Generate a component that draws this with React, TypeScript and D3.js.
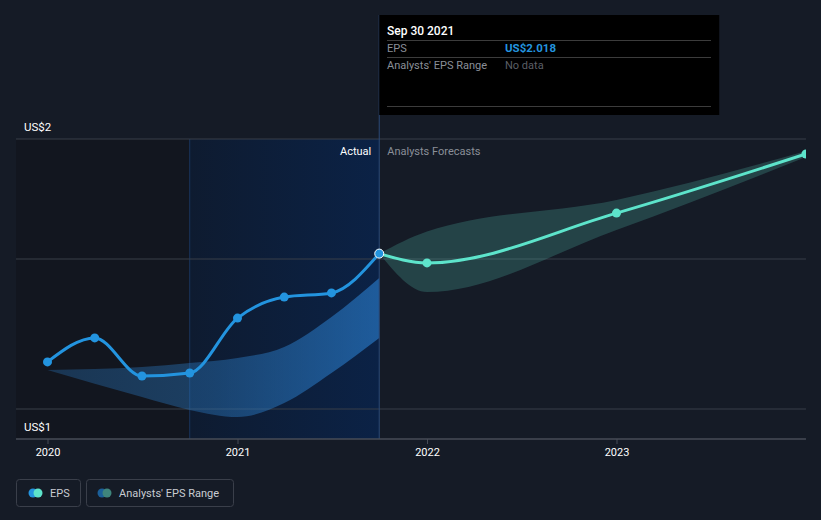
import React from "react";
import * as d3 from "d3";

const W = 821;
const H = 520;

const actualDates = ["2019-12-31", "2020-03-31", "2020-06-30", "2020-09-30", "2020-12-31", "2021-03-31", "2021-06-30", "2021-09-30"];
const actualEps = [1.657, 1.737, 1.61, 1.62, 1.803, 1.873, 1.887, 2.018];

const pastBandDates = ["2019-12-31", "2020-06-30", "2020-09-30", "2020-12-31", "2021-03-31", "2021-06-30", "2021-09-30"];
const pastBandLow = [1.63, 1.54, 1.497, 1.473, 1.52, 1.62, 1.737];
const pastBandHigh = [1.63, 1.64, 1.653, 1.67, 1.707, 1.807, 1.937];

const forecastDates = ["2021-09-30", "2021-12-31", "2022-12-31", "2023-12-31"];
const forecastEps = [2.018, 1.987, 2.153, 2.35];
const forecastLow = [2.018, 1.89, 2.097, 2.34];
const forecastHigh = [2.018, 2.092, 2.197, 2.36];

const yearTicks = ["2020-01-01", "2021-01-01", "2022-01-01", "2023-01-01"];
const yearLabels = ["2020", "2021", "2022", "2023"];
const gridValues = [2.4, 2.0, 1.5];
const yLabels = ["US$2", "US$1"];
const yLabelValues = [2.4, 1.4];

const pd = (s: string) => d3.timeParse("%Y-%m-%d")(s) as Date;

export default function App() {
  const x = d3
    .scaleTime()
    .domain([pd("2020-01-01"), pd("2023-01-01")])
    .range([48, 617]);
  const y = d3.scaleLinear().domain([1.4, 2.4]).range([439, 139]);

  const xEnd = x(pd("2023-12-31"));
  const xNow = x(pd("2021-09-30"));
  const xYearAgo = x(pd("2020-09-30"));

  const line = d3
    .line<[Date, number]>()
    .x((d) => x(d[0]))
    .y((d) => y(d[1]))
    .curve(d3.curveMonotoneX);
  const area = d3
    .area<[Date, number, number]>()
    .x((d) => x(d[0]))
    .y0((d) => y(d[1]))
    .y1((d) => y(d[2]))
    .curve(d3.curveMonotoneX);

  const actual: [Date, number][] = actualDates.map((d, i) => [pd(d), actualEps[i]]);
  const forecast: [Date, number][] = forecastDates.map((d, i) => [pd(d), forecastEps[i]]);
  const pastBand: [Date, number, number][] = pastBandDates.map((d, i) => [pd(d), pastBandLow[i], pastBandHigh[i]]);
  const fBand: [Date, number, number][] = forecastDates.map((d, i) => [pd(d), forecastLow[i], forecastHigh[i]]);

  const font = "Roboto, 'Noto Sans', sans-serif";
  const top = y(2.4);
  const bottom = y(1.4);

  return (
    <svg width={W} height={H} style={{ display: "block", position: "absolute", left: 0, top: 0 }} fontFamily={font}>
      <defs>
        <linearGradient id="hl" x1="0" x2="1" y1="0" y2="0">
          <stop offset="0" stopColor="#0e1b30" />
          <stop offset="1" stopColor="#0b2246" />
        </linearGradient>
        <linearGradient id="pb" x1="0" x2="1" y1="0" y2="0">
          <stop offset="0" stopColor="#2a78c0" stopOpacity={0.32} />
          <stop offset="0.5" stopColor="#2a78c0" stopOpacity={0.42} />
          <stop offset="1" stopColor="#2a7fd0" stopOpacity={0.62} />
        </linearGradient>
        <clipPath id="clip">
          <rect x={0} y={0} width={xEnd} height={H} />
        </clipPath>
      </defs>
      <rect x={0} y={0} width={W} height={H} fill="#151b26" />
      <rect x={16} y={top} width={xYearAgo - 16} height={bottom - top} fill="#12161f" />
      <rect x={xYearAgo} y={top} width={xNow - xYearAgo} height={bottom - top} fill="url(#hl)" />
      <line x1={xYearAgo} x2={xYearAgo} y1={top} y2={bottom} stroke="#1a345c" strokeWidth={1} />

      {gridValues.map((v, i) => (
        <line key={i} x1={16} x2={xEnd} y1={y(v)} y2={y(v)} stroke="#393e49" strokeWidth={1} />
      ))}

      {yLabels.map((t, i) => (
        <text key={t} x={24} y={y(yLabelValues[i]) - 8} fill="#ffffff" fontSize={11.5}>
          {t}
        </text>
      ))}

      <path d={area(pastBand) || ""} fill="url(#pb)" />
      <g clipPath="url(#clip)">
        <path d={area(fBand) || ""} fill="#5ad1bd" fillOpacity={0.22} />
      </g>

      <line x1={xNow} x2={xNow} y1={15} y2={bottom} stroke="#2c4a78" strokeWidth={1} />

      <text x={xNow - 8} y={155} fill="#ffffff" fontSize={11} textAnchor="end">
        Actual
      </text>
      <text x={xNow + 8} y={155} fill="#8a8f98" fontSize={11}>
        Analysts Forecasts
      </text>

      <g clipPath="url(#clip)">
        <path d={line(forecast) || ""} fill="none" stroke="#5de4cb" strokeWidth={3} />
        {forecast.slice(1).map((d, i) => (
          <circle key={i} cx={x(d[0])} cy={y(d[1])} r={4.5} fill="#5de4cb" />
        ))}
      </g>
      <path d={line(actual) || ""} fill="none" stroke="#2394df" strokeWidth={3} />
      {actual.slice(0, -1).map((d, i) => (
        <circle key={i} cx={x(d[0])} cy={y(d[1])} r={4.5} fill="#2394df" />
      ))}
      <circle cx={xNow} cy={y(actualEps[actualEps.length - 1])} r={4.5} fill="#2394df" stroke="#ffffff" strokeWidth={1} />

      <line x1={16} x2={xEnd} y1={bottom} y2={bottom} stroke="#474c57" strokeWidth={1.5} />
      {yearTicks.map((t, i) => (
        <g key={t}>
          <line x1={x(pd(t))} x2={x(pd(t))} y1={bottom} y2={bottom + 5} stroke="#474c57" />
          <text x={x(pd(t))} y={456} fill="#ffffff" fontSize={11} textAnchor="middle">
            {yearLabels[i]}
          </text>
        </g>
      ))}

      {/* tooltip */}
      <rect x={xNow} y={15} width={340} height={100} fill="#000000" />
      <text x={387} y={35} fill="#ffffff" fontSize={12} fontWeight={500}>
        Sep 30 2021
      </text>
      <line x1={387} x2={711} y1={40.5} y2={40.5} stroke="#3c3c3c" />
      <text x={387} y={52} fill="#8a8f98" fontSize={11}>EPS</text>
      <text x={505} y={52} fill="#2394df" fontSize={11.5} fontWeight={700}>US$2.018</text>
      <line x1={387} x2={711} y1={57.5} y2={57.5} stroke="#3c3c3c" />
      <text x={387} y={69} fill="#8a8f98" fontSize={11}>Analysts' EPS Range</text>
      <text x={505} y={69} fill="#5b5f66" fontSize={11}>No data</text>
      <line x1={387} x2={711} y1={106.5} y2={106.5} stroke="#3c3c3c" />

      {/* legend */}
      <rect x={16.5} y={479.5} width={64} height={27} rx={3} fill="none" stroke="#3a3f4a" />
      <circle cx={33} cy={493} r={4.5} fill="#2394df" />
      <circle cx={38} cy={493} r={4.5} fill="#5de4cb" />
      <text x={50} y={497} fill="#c8ccd2" fontSize={11}>EPS</text>
      <rect x={86.5} y={479.5} width={147} height={27} rx={3} fill="none" stroke="#3a3f4a" />
      <circle cx={102} cy={493} r={4.5} fill="#1b5f99" />
      <circle cx={107} cy={493} r={4.5} fill="#3f857c" />
      <text x={119} y={497} fill="#c8ccd2" fontSize={11}>Analysts' EPS Range</text>
    </svg>
  );
}
